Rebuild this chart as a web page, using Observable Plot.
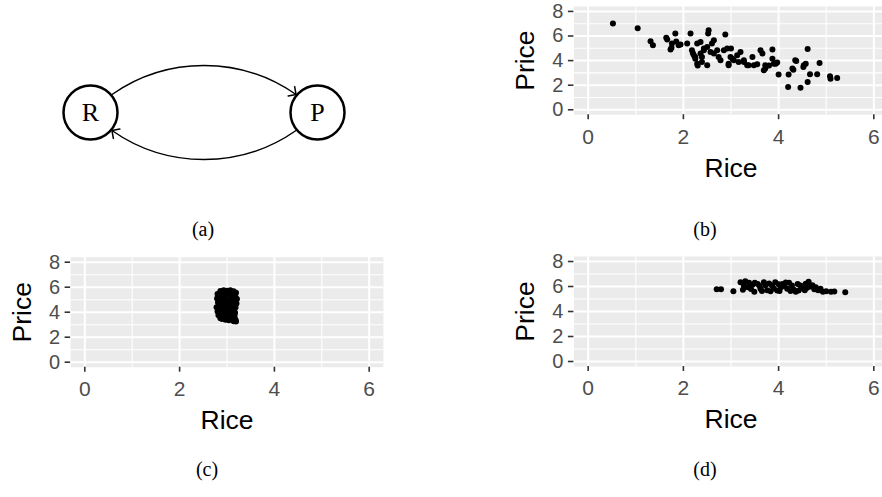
<!DOCTYPE html>
<html><head><meta charset="utf-8">
<script src="https://cdn.jsdelivr.net/npm/d3@7"></script>
<script src="https://cdn.jsdelivr.net/npm/@observablehq/plot@0.6"></script>
<style>
html,body{margin:0;padding:0;background:#fff;overflow:hidden;width:882px;height:497px;}
#root{position:relative;width:882px;height:497px;overflow:hidden;}
.panel{position:absolute;}
.panel svg{max-width:none !important;display:block;}
.cap{position:absolute;font-family:"Liberation Serif","DejaVu Serif",serif;font-size:20px;line-height:1;color:#000;transform:translateX(-50%);white-space:nowrap;}
</style></head><body><div id="root"></div>
<script>
// ---- diagram (a) ----
const nodeLabels = ["R", "P"];
const nodeX = [0, 1];
const edgeFrom = ["R", "P"];
const edgeTo = ["P", "R"];

// ---- panel (b) ----
const riceB = [0.52,1.04,1.31,1.36,1.64,1.66,1.73,1.75,1.76,1.83,1.85,1.90,1.94,2.08,2.15,2.18,2.20,2.22,2.25,2.25,2.29,2.29,2.30,2.36,2.36,2.39,2.39,2.43,2.43,2.50,2.50,2.52,2.53,2.57,2.60,2.64,2.64,2.71,2.74,2.78,2.85,2.88,2.92,2.95,2.95,2.99,3.00,3.03,3.06,3.13,3.16,3.20,3.27,3.27,3.34,3.37,3.45,3.48,3.55,3.62,3.66,3.69,3.72,3.72,3.80,3.87,3.87,3.90,3.94,3.97,4.00,4.20,4.21,4.29,4.31,4.35,4.37,4.46,4.52,4.53,4.57,4.61,4.61,4.66,4.81,4.86,5.08,5.09,5.23];
const priceB = [7.02,6.64,5.58,5.25,5.85,5.72,4.90,5.05,5.39,6.20,5.55,5.25,5.30,5.39,6.20,4.84,4.60,4.43,4.16,4.30,3.75,5.39,3.60,5.52,4.57,4.30,3.89,4.84,4.98,3.62,5.11,6.20,6.47,4.70,5.39,5.66,4.57,4.84,4.30,4.02,4.84,6.12,4.98,3.75,3.62,4.30,4.98,4.16,4.02,4.43,3.89,4.70,3.89,4.02,3.62,3.62,4.30,3.62,3.70,4.84,4.57,3.21,3.35,3.62,3.60,4.90,4.16,3.75,3.75,3.85,2.86,1.85,2.86,3.35,3.26,4.02,3.97,1.80,3.48,3.62,3.75,4.95,2.25,2.88,2.88,3.80,2.72,2.53,2.58];

// ---- panel (c) ----
const riceC = [2.80,2.86,2.93,3.00,3.07,3.14,3.19,2.79,2.84,2.90,2.97,3.04,3.11,3.18,3.21,2.81,2.88,2.95,3.02,3.08,3.15,3.20,2.78,2.85,2.92,2.99,3.06,3.12,3.18,2.80,2.87,2.94,3.01,3.09,3.14,3.17,2.82,2.89,2.96,3.03,3.10,3.16,2.86,2.93,3.00,3.06,3.12,3.18,2.97,3.04,3.14,3.19,2.90];
const priceC = [5.45,5.70,5.75,5.72,5.76,5.68,5.55,5.10,5.30,5.42,5.35,5.48,5.40,5.22,5.05,4.78,4.95,5.05,4.98,5.12,4.90,4.70,4.40,4.60,4.70,4.62,4.75,4.55,4.38,4.05,4.25,4.35,4.28,4.40,4.15,3.95,3.75,3.90,4.00,3.92,4.05,3.70,3.52,3.62,3.55,3.68,3.45,3.40,3.40,3.35,3.28,3.25,3.45];

// ---- panel (d) ----
const riceD = [2.70,2.79,3.05,3.20,3.27,3.30,3.35,3.42,3.49,3.50,3.56,3.60,3.62,3.69,3.72,3.76,3.80,3.86,3.90,3.93,3.97,4.00,4.05,4.08,4.12,4.18,4.22,4.28,4.32,4.36,4.40,4.46,4.50,4.57,4.63,4.67,4.71,4.75,4.78,4.83,4.88,4.93,5.00,5.10,5.17,5.40,3.25,3.38,3.45,3.65,3.83,4.02,4.15,4.25,4.42,4.55,4.60];
const priceD = [5.78,5.78,5.62,6.35,6.08,6.42,5.95,5.80,5.58,6.30,6.20,6.05,5.82,6.35,6.10,5.70,6.25,6.08,5.85,6.35,5.68,6.18,5.95,6.20,6.05,5.82,6.30,6.08,5.75,5.58,6.20,6.08,5.85,6.22,6.38,6.00,6.10,5.78,5.95,5.70,5.82,5.58,5.62,5.58,5.60,5.55,5.75,6.30,6.15,5.65,5.62,5.65,6.32,5.65,5.68,5.70,5.90];

// ---- axes / text ----
const xTicks = [0, 2, 4, 6];
const xMinor = [1, 3, 5];
const yTicks = [0, 2, 4, 6, 8];
const yMinor = [1, 3, 5, 7];
const xTitle = "Rice";
const yTitle = "Price";
const captions = ["(a)", "(b)", "(c)", "(d)"];

const SANS = "'Liberation Sans', Arial, Helvetica, sans-serif";
const SERIF = "'Liberation Serif', 'DejaVu Serif', serif";
const root = document.getElementById("root");

function place(el, left, top, width) {
  const d = document.createElement("div");
  d.className = "panel";
  d.style.left = left + "px";
  d.style.top = top + "px";
  d.style.width = width + "px";
  d.appendChild(el);
  root.appendChild(d);
}

function scatter(rice, price, c) {
  const data = rice.map((r, i) => ({rice: r, price: price[i]}));
  return Plot.plot({
    width: c.width, height: c.height,
    marginLeft: c.x0, marginRight: c.width - c.x1, marginTop: c.y1, marginBottom: c.height - c.y0,
    x: {domain: [-0.3, 6.3], range: [c.x0, c.x1]},
    y: {domain: [-0.4, 8.4], range: [c.y0, c.y1]},
    style: {background: "transparent", overflow: "visible", fontFamily: SANS},
    marks: [
      Plot.frame({fill: "#EBEBEB", stroke: null}),
      Plot.ruleX(xMinor, {stroke: "#fff", strokeWidth: 1.1}),
      Plot.ruleY(yMinor, {stroke: "#fff", strokeWidth: 1.1}),
      Plot.ruleX(xTicks, {stroke: "#fff", strokeWidth: 2}),
      Plot.ruleY(yTicks, {stroke: "#fff", strokeWidth: 2}),
      Plot.axisX({ticks: xTicks, tickFormat: d => String(d), tickSize: 5, tickPadding: 9, fontSize: 21, label: null, stroke: "#333333", strokeWidth: 1.6, fill: "#4D4D4D"}),
      Plot.axisY({ticks: yTicks, tickFormat: d => String(d), tickSize: 5.5, tickPadding: 5, fontSize: 20, label: null, stroke: "#333333", strokeWidth: 1.6, fill: "#4D4D4D"}),
      Plot.dot(data, {x: "rice", y: "price", r: 3, fill: "#000", stroke: null}),
      Plot.text([xTitle], {text: d => d, frameAnchor: "bottom", dy: 43, lineAnchor: "top", fontSize: 26.5, fill: "#000"}),
      Plot.text([yTitle], {text: d => d, frameAnchor: "left", dx: -48, rotate: -90, lineAnchor: "middle", textAnchor: "middle", fontSize: 26.5, fill: "#000"})
    ]
  });
}

// diagram (a)
const nodes = nodeLabels.map((l, i) => ({label: l, x: nodeX[i], y: 0}));
const edges = edgeFrom.map((f, i) => ({
  x1: nodeX[nodeLabels.indexOf(f)], y1: 0,
  x2: nodeX[nodeLabels.indexOf(edgeTo[i])], y2: 0
}));
const diagram = Plot.plot({
  width: 440, height: 200, margin: 0,
  x: {domain: [0, 1], range: [90, 317], axis: null},
  y: {domain: [-1, 1], range: [162, 62], axis: null},
  style: {background: "transparent", overflow: "visible"},
  marks: [
    Plot.arrow(edges, {x1: "x1", y1: "y1", x2: "x2", y2: "y2", bend: 45, insetStart: 28, insetEnd: 28, headLength: 8, headAngle: 90, stroke: "#000", strokeWidth: 1.5}),
    Plot.dot(nodes, {x: "x", y: "y", r: 27, fill: "#fff", stroke: "#000", strokeWidth: 2.5}),
    Plot.text(nodes, {x: "x", y: "y", text: "label", fontSize: 26, fontFamily: SERIF, fill: "#000"})
  ]
});
place(diagram, 0, 0, 440);

place(scatter(riceB, priceB, {width: 388, height: 200, x0: 73.4, x1: 387.6, y0: 114.2, y1: 6.0}), 500, 0, 388);
place(scatter(riceC, priceC, {width: 400, height: 220, x0: 70.1, x1: 382.9, y0: 116.7, y1: 6.7}), 0, 250, 400);
place(scatter(riceD, priceD, {width: 388, height: 220, x0: 73.4, x1: 387.6, y0: 116.0, y1: 6.0}), 500, 250, 388);

const capPos = [[203, 219], [705, 219], [207, 459], [705, 459]];
captions.forEach((t, i) => {
  const d = document.createElement("div");
  d.className = "cap";
  d.textContent = t;
  d.style.left = capPos[i][0] + "px";
  d.style.top = capPos[i][1] + "px";
  root.appendChild(d);
});
</script>
</body></html>
